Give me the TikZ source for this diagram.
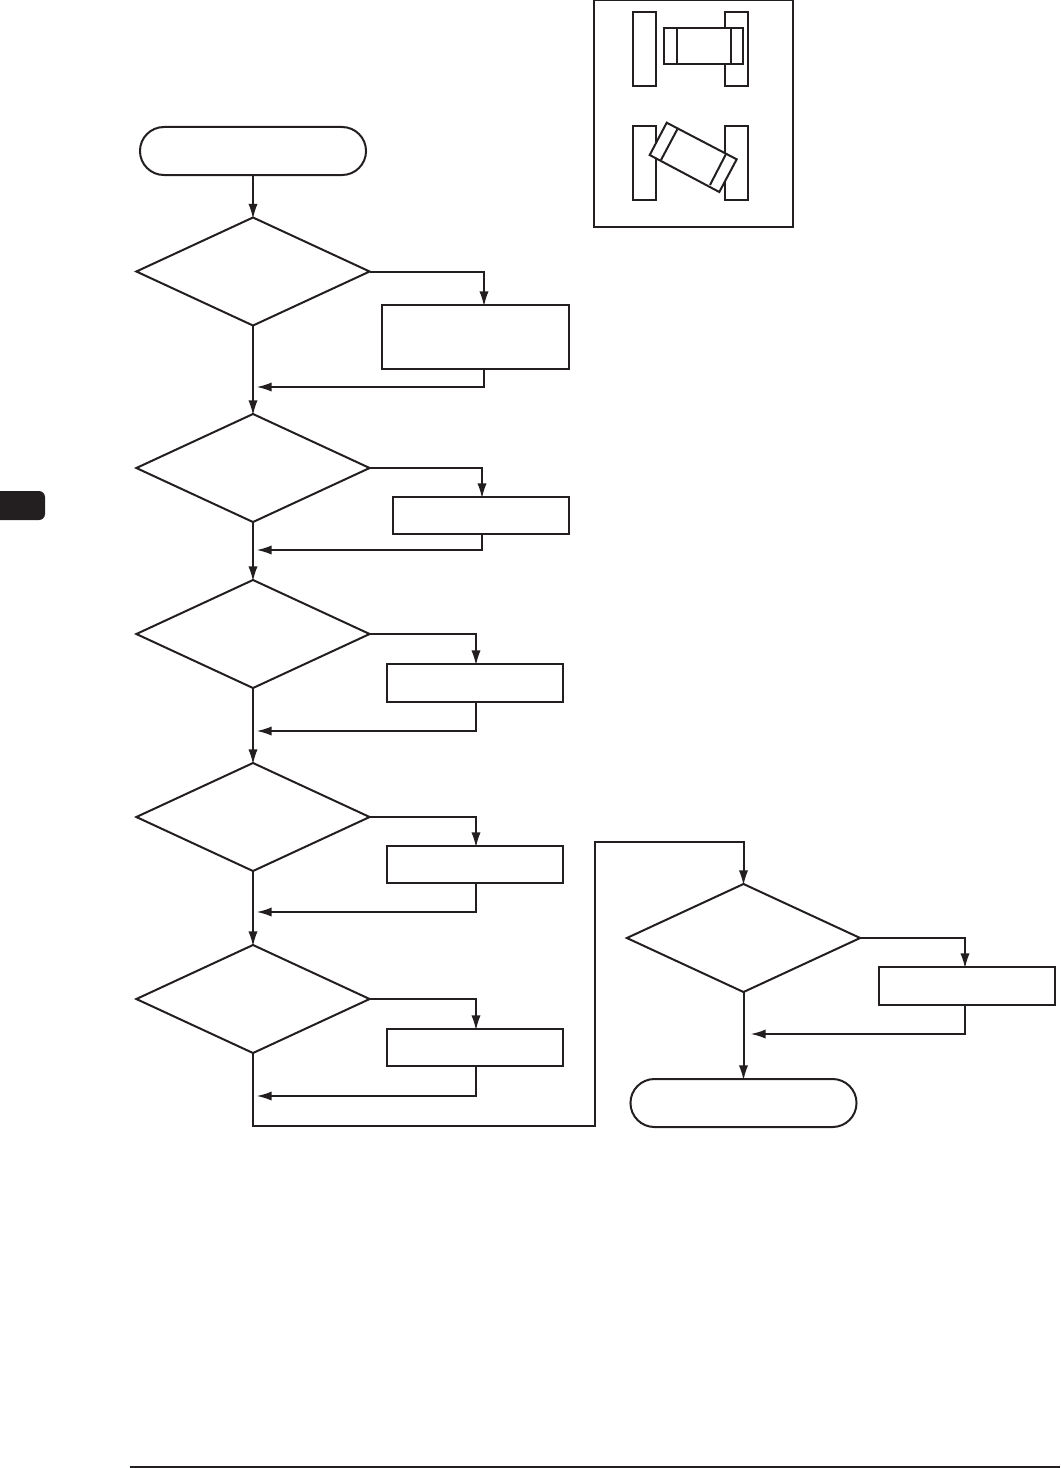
\documentclass[tikz,border=0pt]{standalone}
\usepackage{xcolor}
\usetikzlibrary{arrows.meta,positioning,calc,shapes.geometric,shapes.misc}
\definecolor{finkk}{HTML}{231F20}
\tikzset{
  decision/.style = {draw=finkk, diamond, inner sep=0pt, outer sep=0pt, line width=0.5mm,
                     minimum width=5.83cm, minimum height=2.7cm},
  process/.style  = {draw=finkk, rectangle, inner sep=0pt, outer sep=0pt, line width=0.5mm},
  terminal/.style = {draw=finkk, rounded rectangle, inner sep=0pt, outer sep=0pt, line width=0.5mm,
                     minimum width=5.65cm, minimum height=1.2cm},
  flow/.style     = {-{Latex[length=3.8mm,width=2.3mm]}, draw=finkk, line width=0.5mm,
                     shorten >=-0.4mm},
  link/.style     = {draw=finkk, line width=0.5mm},
  part/.style     = {draw=finkk, fill=white, line width=0.5mm},
}
\begin{document}
\begin{tikzpicture}[x=0.025cm, y=-0.025cm]
\useasboundingbox (0,0) rectangle (1060,1468);
% ---- page tab and foot rule ----
\fill[finkk, rounded corners=1.5mm] (-20,491) rectangle (45,520);
\draw[finkk, line width=0.55mm] (130,1467) -- (1060,1467);
% ---- the two ends ----
\node[terminal] (start) at (253,151) {};
\node[terminal] (stop) at (743.5,1103) {};
% ---- the decisions ----
\foreach \n/\cx/\cy in {1/253/271.5,2/253/468,3/253/634,4/253/817,5/253/999,6/743.5/938}{
  \node[decision] (dia\n) at (\cx,\cy) {};}
% ---- the boxes, each with its way in and way back ----
\foreach \n/\l/\t/\r/\b/\ax/\ry/\rx in {1/382/305/569/369/484/387/258,
    2/393/497/569/534/482/550/258, 3/387/664/563/702/476/731/258,
    4/387/846/563/883/476/912/258, 5/387/1029/563/1066/476/1096/258,
    6/879/967/1055/1005/965/1034/752}{
  \node[process, minimum width={(\r-\l)*0.025cm}, minimum height={(\b-\t)*0.025cm}]
    (box\n) at ({(\l+\r)/2},{(\t+\b)/2}) {};
  \coordinate (in\n) at (\ax,\t);
  \coordinate (out\n) at (\ax,\b);
  \coordinate (back\n) at (\rx,\ry);
  \draw[flow] (dia\n.east) -| (in\n);
  \draw[flow] (out\n) |- (back\n);}
% ---- main line ----
\draw[flow] (start) -- (dia1);
\foreach \a/\b in {1/2,2/3,3/4,4/5}{
  \draw[flow] (dia\a) -- (dia\b);}
\coordinate (under) at (595,1126);
\coordinate (over) at (595,842);
\draw[flow] (dia5.south) |- (under) -- (over) -| (dia6.north);
\draw[flow] (dia6) -- (stop);
% ---- inset with the two parts ----
\draw[link] (594,0) rectangle (793,227);
\foreach \px/\py in {633/12,725/12,633/126,725/126}{
  \draw[part] (\px,\py) rectangle ++(23,74);}
\draw[part] (664,28) rectangle (743,64);
\draw[link] (677,28) -- (677,64);
\draw[link] (731,28) -- (731,64);
\draw[part] (666.7,122.7) -- (736.7,159.3) -- (719.3,192) -- (649.7,155) -- cycle;
\draw[link] (677.3,129.3) -- (661,160);
\draw[link] (726,154) -- (710,185);
\end{tikzpicture}
\end{document}
